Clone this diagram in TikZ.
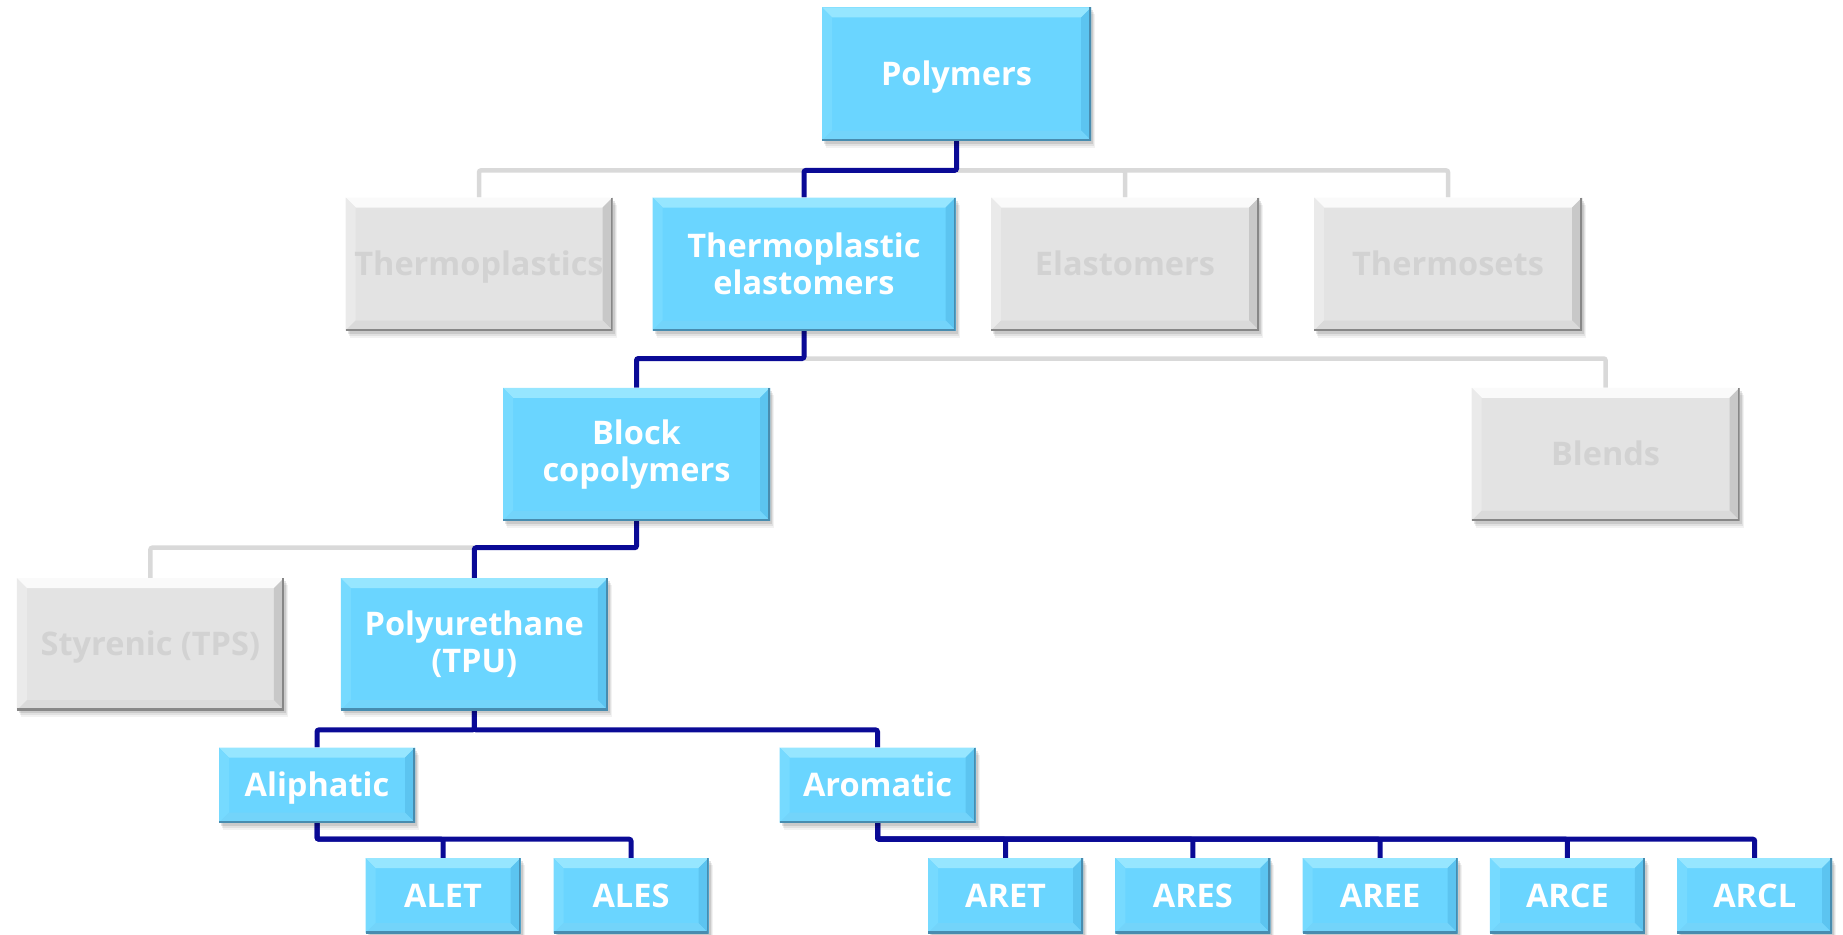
\documentclass[tikz,border=0pt]{standalone}
\usepackage{fontspec}
\setmainfont{Open Sans}
\usetikzlibrary{shadows}
\definecolor{bfill}{RGB}{106,213,255}
\definecolor{btop}{RGB}{150,230,255}
\definecolor{bleft}{RGB}{118,218,255}
\definecolor{bright}{RGB}{92,196,240}
\definecolor{bbot}{RGB}{115,212,250}
\definecolor{bedge}{RGB}{72,140,175}
\definecolor{gfill}{RGB}{227,227,227}
\definecolor{gtop}{RGB}{250,250,250}
\definecolor{gleft}{RGB}{234,234,234}
\definecolor{gright}{RGB}{200,200,200}
\definecolor{gbot}{RGB}{218,218,218}
\definecolor{gedge}{RGB}{135,135,135}
\definecolor{gtext}{RGB}{210,210,210}
\definecolor{navy}{RGB}{10,10,150}
\definecolor{lgray}{RGB}{217,217,217}
\pgfdeclarelayer{bg}
\pgfsetlayers{bg,main}
\tikzset{
  bevel/.style n args={5}{path picture={
    \def\pb{path picture bounding box}
    \fill[#1] (\pb.north west) -- (\pb.north east) -- ([xshift=-10pt,yshift=-10pt]\pb.north east) -- ([xshift=10pt,yshift=-10pt]\pb.north west) -- cycle;
    \fill[#2] (\pb.north west) -- ([xshift=10pt,yshift=-10pt]\pb.north west) -- ([xshift=10pt,yshift=10pt]\pb.south west) -- (\pb.south west) -- cycle;
    \fill[#3] (\pb.north east) -- ([xshift=-10pt,yshift=-10pt]\pb.north east) -- ([xshift=-10pt,yshift=10pt]\pb.south east) -- (\pb.south east) -- cycle;
    \fill[#4] (\pb.south west) -- ([xshift=10pt,yshift=10pt]\pb.south west) -- ([xshift=-10pt,yshift=10pt]\pb.south east) -- (\pb.south east) -- cycle;
    \draw[#5, line width=4pt] (\pb.south west) -- (\pb.south east) -- (\pb.north east);
  }},
  bx/.style={inner sep=0pt, align=center, font=\fontsize{32.5}{37}\selectfont\bfseries,
    drop shadow={shadow xshift=4pt,shadow yshift=-7pt,opacity=0.05,fill=black},
    drop shadow={shadow xshift=3pt,shadow yshift=-5pt,opacity=0.07,fill=black},
    drop shadow={shadow xshift=2pt,shadow yshift=-3pt,opacity=0.10,fill=black}},
  one/.style={text height=23pt, text depth=0pt},
  bluebox/.style={bx, fill=bfill, text=white, bevel={btop}{bleft}{bright}{bbot}{bedge}},
  graybox/.style={bx, fill=gfill, text=gtext, bevel={gtop}{gleft}{gright}{gbot}{gedge}},
  big/.style={minimum width=267pt, minimum height=133pt},
  mid/.style={minimum width=196pt, minimum height=75pt, one},
  small/.style={minimum width=155pt, minimum height=75pt, one},
  bl/.style={draw=navy, line width=5pt, rounded corners=2pt},
  gl/.style={draw=lgray, line width=4.5pt, rounded corners=2pt},
}
\begin{document}
\begin{tikzpicture}[x=1pt,y=-1pt]
\useasboundingbox (0,0) rectangle (1843,934);
% level 1
\node[bluebox, big, one, minimum width=269pt] (poly) at (956.5,74) {Polymers};
% level 2
\node[graybox, big, one] (tp) at (479,264) {Thermoplastics};
\node[bluebox, big, minimum width=303pt] (tpe) at (804,264) {Thermoplastic\\elastomers};
\node[graybox, big, one, minimum width=268pt] (el) at (1125,264) {Elastomers};
\node[graybox, big, one, minimum width=268pt] (ts) at (1448,264) {Thermosets};
% level 3
\node[bluebox, big] (blk) at (636.5,454.3) {Block\\copolymers};
\node[graybox, big, one, minimum width=268pt] (bld) at (1605.6,454.3) {Blends};
% level 4
\node[graybox, big, one, minimum height=132pt] (sty) at (150.4,644.2) {Styrenic (TPS)};
\node[bluebox, big, minimum height=132pt] (pu) at (474.3,644.2) {Polyurethane\\(TPU)};
% level 5
\node[bluebox, mid] (ali) at (317,785) {Aliphatic};
\node[bluebox, mid] (aro) at (877.5,785) {Aromatic};
% level 6
\node[bluebox, small] (alet) at (443,895.5) {ALET};
\node[bluebox, small] (ales) at (631,895.5) {ALES};
\node[bluebox, small] (aret) at (1005.6,895.5) {ARET};
\node[bluebox, small] (ares) at (1192.8,895.5) {ARES};
\node[bluebox, small] (aree) at (1380.1,895.5) {AREE};
\node[bluebox, small] (arce) at (1567.4,895.5) {ARCE};
\node[bluebox, small] (arcl) at (1754.7,895.5) {ARCL};
% bus levels
\coordinate (b1) at (0,170.4);
\coordinate (b2) at (0,358.5);
\coordinate (b3) at (0,547.7);
\coordinate (b4) at (0,729.9);
\coordinate (b5) at (0,839.2);
\begin{pgfonlayer}{bg}
\draw[gl] (poly.south) |- (tp.north |- b1) -- (tp.north);
\draw[gl] (poly.south) |- (el.north |- b1) -- (el.north);
\draw[gl] (poly.south) |- (ts.north |- b1) -- (ts.north);
\draw[bl] (poly.south) |- (tpe.north |- b1) -- (tpe.north);
\draw[gl] (tpe.south) |- (bld.north |- b2) -- (bld.north);
\draw[bl] (tpe.south) |- (blk.north |- b2) -- (blk.north);
\draw[gl] (blk.south) |- (sty.north |- b3) -- (sty.north);
\draw[bl] (blk.south) |- (pu.north |- b3) -- (pu.north);
\draw[bl] (pu.south) |- (ali.north |- b4) -- (ali.north);
\draw[bl] (pu.south) |- (aro.north |- b4) -- (aro.north);
\draw[bl] (ali.south) |- (alet.north |- b5) -- (alet.north);
\draw[bl] (ali.south) |- (ales.north |- b5) -- (ales.north);
\foreach \t in {aret,ares,aree,arce,arcl}
  \draw[bl] (aro.south) |- (\t.north |- b5) -- (\t.north);
\end{pgfonlayer}
\end{tikzpicture}
\end{document}
